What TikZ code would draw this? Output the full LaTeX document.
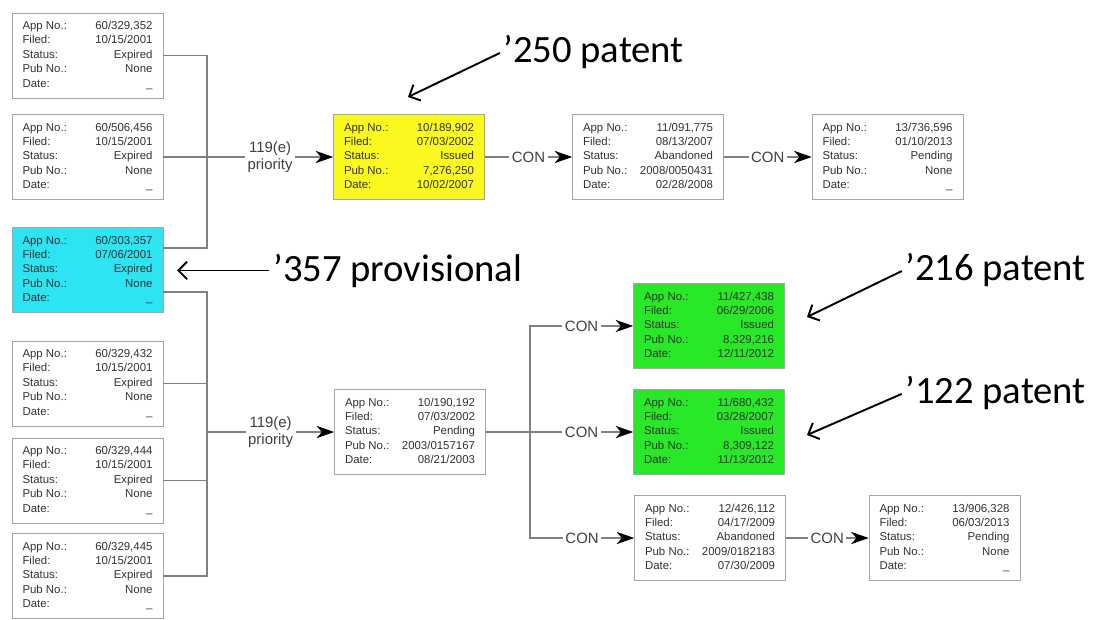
\documentclass[tikz,border=0pt]{standalone}
\usepackage{fontspec}
\setmainfont{Liberation Sans}
\newfontfamily\callfont{Carlito}
\usepackage{xcolor}
\usetikzlibrary{arrows.meta, calc, positioning}

\definecolor{provcyan}{RGB}{45,228,242}
\definecolor{issyellow}{RGB}{250,248,30}
\definecolor{issgreen}{RGB}{40,232,40}

% one application record: label left, value right
\newcommand{\patrec}[5]{%
  \begin{tabular*}{2.6cm}{@{}l@{\extracolsep{\fill}}r@{}}
    App No.: & #1\\ Filed: & #2\\ Status: & #3\\ Pub No.: & #4\\ Date: & #5
  \end{tabular*}}

\begin{document}
\begin{tikzpicture}[x=0.02cm, y=-0.02cm,
    rec/.style={draw=black!35, fill=white, minimum width=3.02cm, minimum height=1.7cm,
      inner sep=0pt, text=black!80, font=\fontsize{6.5}{8.2}\selectfont},
    wire/.style={draw=black!50, line width=0.6pt},
    conn/.style={wire, -{Stealth[length=10pt, width=7pt, inset=3pt, color=black]}},
    lbl/.style={fill=white, inner sep=1.5pt, text=black!75, align=center,
      font=\fontsize{8.5}{10}\selectfont},
    callout/.style={anchor=base west, inner sep=0pt, font=\callfont\fontsize{22}{26}\selectfont},
    pointer/.style={-{Straight Barb[length=5pt, width=10pt]}, line width=1.1pt, shorten <=2pt}]
  \useasboundingbox (0,0) rectangle (1094,619);

  % provisionals
  \node[rec] (prov352) at (87.5,55.5) {\patrec{60/329,352}{10/15/2001}{Expired}{None}{\_}};
  \node[rec] (prov456) at (87.5,157) {\patrec{60/506,456}{10/15/2001}{Expired}{None}{\_}};
  \node[rec, fill=provcyan] (prov357) at (87.5,270) {\patrec{60/303,357}{07/06/2001}{Expired}{None}{\_}};
  \node[rec] (prov432) at (87.5,383.5) {\patrec{60/329,432}{10/15/2001}{Expired}{None}{\_}};
  \node[rec] (prov444) at (87.5,480.5) {\patrec{60/329,444}{10/15/2001}{Expired}{None}{\_}};
  \node[rec] (prov445) at (87.5,576) {\patrec{60/329,445}{10/15/2001}{Expired}{None}{\_}};

  % upper family
  \node[rec, fill=issyellow] (app902) at (409,157) {\patrec{10/189,902}{07/03/2002}{Issued}{7,276,250}{10/02/2007}};
  \node[rec] (app775) at (648,157) {\patrec{11/091,775}{08/13/2007}{Abandoned}{2008/0050431}{02/28/2008}};
  \node[rec] (app596) at (887.5,157) {\patrec{13/736,596}{01/10/2013}{Pending}{None}{\_}};

  % lower family
  \node[rec] (app192) at (410,432) {\patrec{10/190,192}{07/03/2002}{Pending}{2003/0157167}{08/21/2003}};
  \node[rec, fill=issgreen] (app438) at (709,326) {\patrec{11/427,438}{06/29/2006}{Issued}{8,329,216}{12/11/2012}};
  \node[rec, fill=issgreen] (app432) at (709,432) {\patrec{11/680,432}{03/28/2007}{Issued}{8,309,122}{11/13/2012}};
  \node[rec] (app112) at (710,538) {\patrec{12/426,112}{04/17/2009}{Abandoned}{2009/0182183}{07/30/2009}};
  \node[rec] (app328) at (944.5,538) {\patrec{13/906,328}{06/03/2013}{Pending}{None}{\_}};

  \coordinate (bus1) at (207,157);
  \coordinate (bus2) at (207,432);
  \coordinate (bus3) at (530,432);

  \draw[wire] (prov352.east) -| (bus1);
  \draw[wire] ($(prov357.east)+(0,-22)$) -| (bus1);
  \draw[wire] (prov456.east) -- (bus1);
  \draw[conn] (bus1) -- node[lbl] {119(e)\\priority} (app902.west);

  \draw[wire] ($(prov357.east)+(0,22)$) -| (bus2);
  \draw[wire] (prov445.east) -| (bus2);
  \draw[wire] (prov432.east) -- (prov432.east -| bus2);
  \draw[wire] (prov444.east) -- (prov444.east -| bus2);
  \draw[conn] (bus2) -- node[lbl] {119(e)\\priority} (app192.west);

  \draw[conn] (app902.east) -- node[lbl] {CON} (app775.west);
  \draw[conn] (app775.east) -- node[lbl] {CON} (app596.west);

  \draw[wire] (app192.east) -- (bus3);
  \draw[conn] (bus3) |- node[lbl, pos=0.75] {CON} (app438.west);
  \draw[conn] (bus3) -- node[lbl] {CON} (app432.west);
  \draw[conn] (bus3) |- node[lbl, pos=0.75] {CON} (app112.west);
  \draw[conn] (app112.east) -- node[lbl] {CON} (app328.west);

  % callouts
  \node[callout] (t250) at (503,62) {’250 patent};
  \node[callout] (t357) at (273,281) {’357 provisional};
  \node[callout] (t216) at (905,280) {’216 patent};
  \node[callout] (t122) at (905,403) {’122 patent};
  \coordinate (p250) at (408,97);
  \coordinate (p357) at (177,272);
  \coordinate (p216) at (807,317);
  \coordinate (p122) at (807,435);
  \draw[pointer] (t250.west) -- (p250);
  \draw[pointer] (t357.west) -- (t357.west -| p357);
  \draw[pointer] (t216.west) -- (p216);
  \draw[pointer] (t122.west) -- (p122);
\end{tikzpicture}
\end{document}
